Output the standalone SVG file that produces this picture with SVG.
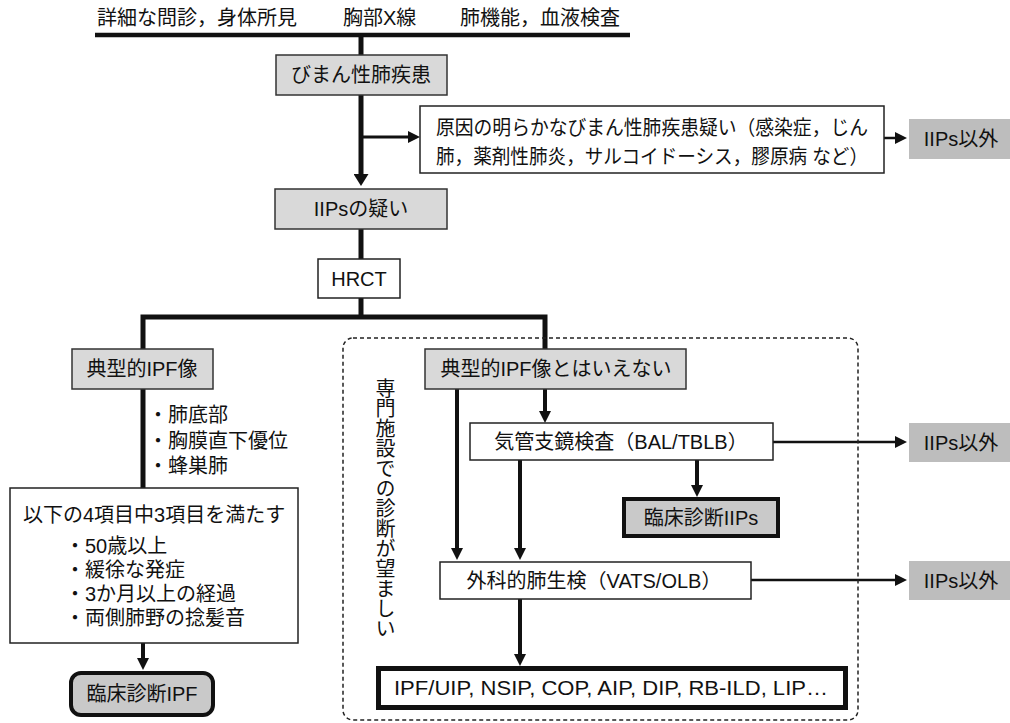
<svg xmlns="http://www.w3.org/2000/svg" width="1010" height="723" viewBox="0 0 1010 723">
<style>
text{font-family:"Liberation Sans","Noto Sans CJK JP",sans-serif;fill:#111;font-size:20px;}
.c{text-anchor:middle;dominant-baseline:central;}
.l{dominant-baseline:central;}
.box{fill:#fff;stroke:#222;stroke-width:1.5;}
.gbox{fill:#d9d9d9;stroke:#333;stroke-width:1.5;}
.xbox{fill:#bdbdbd;stroke:none;}
.dbox{fill:#c9c9c9;stroke:#111;stroke-width:4;}
.ln{fill:none;stroke:#111;}
</style>
<defs>
<marker id="ah" markerUnits="userSpaceOnUse" viewBox="0 0 12 12" markerWidth="12" markerHeight="12" refX="1" refY="6" orient="auto"><path d="M0,0L12,6L0,12z" fill="#111"/></marker>
<marker id="ahb" markerUnits="userSpaceOnUse" viewBox="0 0 12 15" markerWidth="12" markerHeight="15" refX="1" refY="7.5" orient="auto"><path d="M0,0L12,7.5L0,15z" fill="#111"/></marker>
</defs>

<g id="header">
<text x="97" y="18" class="l">詳細な問診，身体所見</text>
<text x="343" y="18" class="l">胸部X線</text>
<text x="460" y="18" class="l">肺機能，血液検査</text>
</g>

<g id="connectors">
<line class="ln" x1="95" y1="35" x2="630" y2="35" stroke-width="4.5"/>
<line class="ln" x1="361" y1="35" x2="361" y2="55" stroke-width="5"/>
<line class="ln" x1="361" y1="95" x2="361" y2="175" stroke-width="5" marker-end="url(#ahb)"/>
<line class="ln" x1="361" y1="137" x2="409" y2="137" stroke-width="3" marker-end="url(#ah)"/>
<line class="ln" x1="884" y1="138" x2="896" y2="138" stroke-width="2.5" marker-end="url(#ah)"/>
<line class="ln" x1="361" y1="229" x2="361" y2="259" stroke-width="5"/>
<path class="ln" d="M143,349V317H545V349" stroke-width="5"/>
<line class="ln" x1="361" y1="298" x2="361" y2="317" stroke-width="5"/>
<line class="ln" x1="143" y1="389" x2="143" y2="488" stroke-width="5"/>
<line class="ln" x1="143" y1="643" x2="143" y2="659" stroke-width="4" marker-end="url(#ah)"/>
<line class="ln" x1="457" y1="389" x2="457" y2="549" stroke-width="4" marker-end="url(#ah)"/>
<line class="ln" x1="545" y1="389" x2="545" y2="412" stroke-width="4" marker-end="url(#ah)"/>
<line class="ln" x1="520" y1="460" x2="520" y2="549" stroke-width="4" marker-end="url(#ah)"/>
<line class="ln" x1="697" y1="460" x2="697" y2="486" stroke-width="4" marker-end="url(#ah)"/>
<line class="ln" x1="773" y1="442" x2="896" y2="442" stroke-width="2.5" marker-end="url(#ah)"/>
<line class="ln" x1="751" y1="580" x2="896" y2="580" stroke-width="2.5" marker-end="url(#ah)"/>
<line class="ln" x1="520" y1="599" x2="520" y2="655" stroke-width="4" marker-end="url(#ah)"/>
</g>

<g id="specialist-area">
<rect x="343" y="338" width="515" height="382" rx="10" fill="none" stroke="#222" stroke-width="1.5" stroke-dasharray="4 3"/>
<text x="384" y="378" style="writing-mode:vertical-rl" font-size="19">専門施設での診断が望ましい</text>
</g>

<g id="n-diffuse"><rect class="gbox" x="276" y="55" width="171" height="40"/><text class="c" x="361" y="75">びまん性肺疾患</text></g>
<g id="n-known-cause"><rect class="box" x="420" y="106" width="464" height="67"/>
<text class="l" x="436" y="128" font-size="18.5" textLength="432" lengthAdjust="spacingAndGlyphs">原因の明らかなびまん性肺疾患疑い（感染症，じん</text>
<text class="l" x="436" y="157" font-size="18.5" textLength="432" lengthAdjust="spacingAndGlyphs">肺，薬剤性肺炎，サルコイドーシス，膠原病 など）</text></g>
<g id="n-other1"><rect class="xbox" x="909" y="119" width="101" height="40"/><text class="c" x="961" y="139">IIPs以外</text></g>
<g id="n-suspect"><rect class="gbox" x="275" y="189" width="172" height="40"/><text class="c" x="361" y="209">IIPsの疑い</text></g>
<g id="n-hrct"><rect class="box" x="318" y="259" width="82" height="39"/><text class="c" x="359" y="278.5">HRCT</text></g>
<g id="n-typical"><rect class="gbox" x="72" y="349" width="141" height="40"/><text class="c" x="142" y="369">典型的IPF像</text></g>
<g id="n-typical-features">
<text class="l" x="148" y="415">・肺底部</text>
<text class="l" x="148" y="441">・胸膜直下優位</text>
<text class="l" x="148" y="466">・蜂巣肺</text>
</g>
<g id="n-criteria"><rect class="box" x="10" y="488" width="288" height="155"/>
<text class="l" x="23" y="515">以下の4項目中3項目を満たす</text>
<text class="l" x="65" y="546">・50歳以上</text>
<text class="l" x="65" y="570">・緩徐な発症</text>
<text class="l" x="65" y="594">・3か月以上の経過</text>
<text class="l" x="65" y="618">・両側肺野の捻髪音</text></g>
<g id="n-ipf"><rect class="dbox" x="71" y="673" width="142" height="42" rx="10"/><text class="c" x="142" y="694">臨床診断IPF</text></g>
<g id="n-atypical"><rect class="gbox" x="425" y="349" width="261" height="40"/><text class="c" x="556" y="369">典型的IPF像とはいえない</text></g>
<g id="n-bronch"><rect class="box" x="470" y="423" width="303" height="37"/><text class="c" x="621" y="441.5" font-size="19">気管支鏡検査（BAL/TBLB）</text></g>
<g id="n-other2"><rect class="xbox" x="909" y="423" width="101" height="39"/><text class="c" x="961" y="442.5">IIPs以外</text></g>
<g id="n-iips"><rect class="dbox" x="624" y="499" width="154" height="37"/><text class="c" x="701" y="517.5">臨床診断IIPs</text></g>
<g id="n-surgical"><rect class="box" x="440" y="562" width="311" height="37"/><text class="c" x="594" y="580.5" font-size="19">外科的肺生検（VATS/OLB）</text></g>
<g id="n-other3"><rect class="xbox" x="909" y="561" width="101" height="39"/><text class="c" x="961" y="580.5">IIPs以外</text></g>
<g id="n-final"><rect x="378.5" y="668.5" width="467" height="39" fill="#fff" stroke="#111" stroke-width="5"/><text class="c" x="611" y="688" font-size="21.5" textLength="434" lengthAdjust="spacingAndGlyphs">IPF/UIP, NSIP, COP, AIP, DIP, RB-ILD, LIP…</text></g>
</svg>
